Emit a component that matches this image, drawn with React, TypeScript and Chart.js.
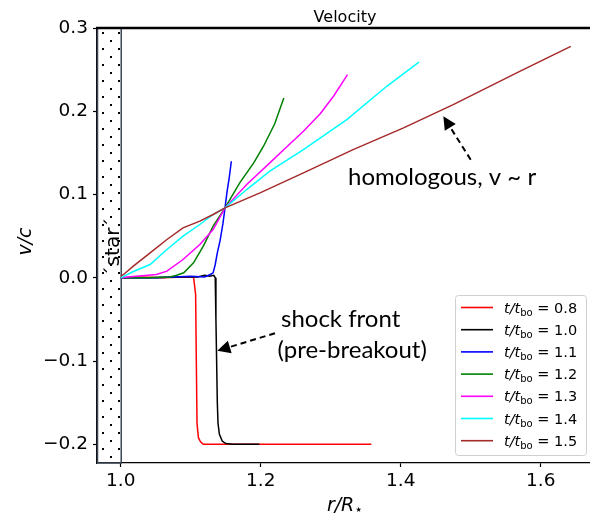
import React, { useEffect, useRef } from "react";
import { Chart, registerables } from "chart.js";
Chart.register(...registerables);

// ---- data ----
const seriesLabels = ["0.8", "1.0", "1.1", "1.2", "1.3", "1.4", "1.5"];
const seriesColors = ["#ff0000", "#000000", "#0000ff", "#008000", "#ff00ff", "#00ffff", "#a52a2a"];

const r08 = [1.0, 1.03, 1.06, 1.09, 1.104, 1.107, 1.108, 1.109, 1.111, 1.114, 1.118, 1.13, 1.2, 1.28, 1.358];
const v08 = [0.0, 0.001, 0.0, 0.001, 0.001, -0.02, -0.1, -0.175, -0.192, -0.197, -0.2, -0.2, -0.2, -0.2, -0.2];

const r10 = [1.0, 1.04, 1.08, 1.11, 1.12, 1.127, 1.133, 1.135, 1.136, 1.137, 1.138, 1.139, 1.141, 1.145, 1.15, 1.16, 1.198];
const v10 = [0.0, 0.0, 0.001, 0.001, 0.003, 0.002, 0.003, 0.0, -0.05, -0.1, -0.15, -0.175, -0.188, -0.196, -0.199, -0.2, -0.2];

const r11 = [1.0, 1.05, 1.1, 1.12, 1.128, 1.132, 1.135, 1.138, 1.142, 1.146, 1.149, 1.152, 1.155, 1.158];
const v11 = [0.0, 0.0, 0.002, 0.001, 0.004, 0.006, 0.016, 0.03, 0.045, 0.065, 0.084, 0.104, 0.12, 0.14];

const r12 = [1.0, 1.04, 1.07, 1.08, 1.09, 1.104, 1.118, 1.132, 1.149, 1.17, 1.19, 1.204, 1.22, 1.233];
const v12 = [0.0, 0.0, 0.001, 0.003, 0.006, 0.018, 0.038, 0.062, 0.084, 0.114, 0.138, 0.158, 0.185, 0.216];

const r13 = [1.0, 1.018, 1.051, 1.066, 1.089, 1.113, 1.132, 1.149, 1.18, 1.213, 1.237, 1.261, 1.285, 1.304, 1.324];
const v13 = [0.0, 0.0015, 0.004, 0.008, 0.022, 0.04, 0.058, 0.084, 0.112, 0.138, 0.157, 0.176, 0.197, 0.218, 0.244];

const r14 = [1.0, 1.018, 1.042, 1.066, 1.089, 1.113, 1.132, 1.149, 1.18, 1.213, 1.261, 1.323, 1.38, 1.426];
const v14 = [0.0, 0.0076, 0.016, 0.034, 0.05, 0.064, 0.076, 0.084, 0.106, 0.128, 0.154, 0.19, 0.23, 0.259];

const r15 = [1.0, 1.004, 1.018, 1.042, 1.066, 1.089, 1.113, 1.132, 1.149, 1.199, 1.261, 1.332, 1.404, 1.475, 1.57, 1.643];
const v15 = [0.002, 0.004, 0.014, 0.03, 0.046, 0.06, 0.068, 0.076, 0.084, 0.102, 0.126, 0.154, 0.18, 0.208, 0.248, 0.278];

const radii = [r08, r10, r11, r12, r13, r14, r15];
const vels = [v08, v10, v11, v12, v13, v14, v15];

const xTicks = [1.0, 1.2, 1.4, 1.6];
const yTicks = [-0.2, -0.1, 0.0, 0.1, 0.2, 0.3];
const xMin = 0.9661;
const xMax = 1.6747;
const yMin = -0.2224;
const yMax = 0.3;
const starEdge = 1.0;

const titleText = "Velocity";
const starText = "\u00B4star\u00B4";
const homologousText = "homologous, v ~ r";
const shockText = ["shock front", "(pre-breakout)"];

const FONT = "'DejaVu Sans'";
const ANN_FONT = "Lato";

type Run = { text: string; font: string; dy?: number };
function drawRuns(ctx: CanvasRenderingContext2D, runs: Run[], x: number, y: number, align: "left" | "center" = "left") {
  let total = 0;
  for (const r of runs) {
    ctx.font = r.font;
    total += ctx.measureText(r.text).width;
  }
  let cx = align === "center" ? x - total / 2 : x;
  ctx.textAlign = "left";
  ctx.textBaseline = "alphabetic";
  for (const r of runs) {
    ctx.font = r.font;
    ctx.fillText(r.text, cx, y + (r.dy || 0));
    cx += ctx.measureText(r.text).width;
  }
}

function dashedArrow(ctx: CanvasRenderingContext2D, x0: number, y0: number, x1: number, y1: number) {
  const dx = x1 - x0, dy = y1 - y0;
  const len = Math.hypot(dx, dy);
  const ux = dx / len, uy = dy / len;
  const head = 13, half = 6.5;
  const bx = x1 - ux * head, by = y1 - uy * head;
  ctx.save();
  ctx.strokeStyle = "#000";
  ctx.fillStyle = "#000";
  ctx.lineWidth = 2;
  ctx.setLineDash([6, 4]);
  ctx.beginPath();
  ctx.moveTo(x0, y0);
  ctx.lineTo(bx, by);
  ctx.stroke();
  ctx.setLineDash([]);
  ctx.beginPath();
  ctx.moveTo(x1, y1);
  ctx.lineTo(bx - uy * half, by + ux * half);
  ctx.lineTo(bx + uy * half, by - ux * half);
  ctx.closePath();
  ctx.fill();
  ctx.restore();
}

export default function App() {
  const ref = useRef<HTMLCanvasElement>(null);
  useEffect(() => {
    const canvas = ref.current!;
    const ctx0 = canvas.getContext("2d")!;
    const tile = document.createElement("canvas");
    tile.width = 16;
    tile.height = 16;
    const tctx = tile.getContext("2d")!;
    tctx.fillStyle = "#000";
    tctx.fillRect(6, 0, 2, 2);
    tctx.fillRect(14, 8, 2, 2);
    const pattern = ctx0.createPattern(tile, "repeat");

    const starPlugin = {
      id: "star",
      beforeDatasetsDraw(chart: any) {
        const { ctx, chartArea, scales } = chart;
        const x0 = chartArea.left;
        const x1 = scales.x.getPixelForValue(starEdge);
        ctx.save();
        ctx.fillStyle = pattern as any;
        ctx.fillRect(x0, chartArea.top, x1 - x0, chartArea.bottom - chartArea.top);
        ctx.strokeStyle = "#3b4656";
        ctx.lineWidth = 1.5;
        ctx.strokeRect(x0 + 0.5, chartArea.top, x1 - x0, chartArea.bottom - chartArea.top);
        // rotated label
        ctx.translate(x1 - 2, scales.y.getPixelForValue(0.037));
        ctx.rotate(-Math.PI / 2);
        ctx.fillStyle = "#000";
        ctx.font = `20px ${FONT}`;
        ctx.textAlign = "center";
        ctx.textBaseline = "alphabetic";
        ctx.fillText(starText, 0, 0);
        ctx.restore();
      },
      afterDraw(chart: any) {
        const { ctx, chartArea, scales } = chart;
        const X = (v: number) => scales.x.getPixelForValue(v);
        const Y = (v: number) => scales.y.getPixelForValue(v);
        ctx.save();
        // top spine
        ctx.strokeStyle = "#000";
        ctx.lineWidth = 2.6;
        ctx.beginPath();
        ctx.moveTo(chartArea.left - 1, chartArea.top);
        ctx.lineTo(chartArea.right, chartArea.top);
        ctx.stroke();
        ctx.fillStyle = "#000";
        // title
        ctx.font = `16px ${FONT}`;
        ctx.textAlign = "center";
        ctx.textBaseline = "alphabetic";
        ctx.fillText(titleText, (chartArea.left + chartArea.right) / 2, 22);
        // x label
        drawRuns(ctx, [
          { text: "r/R", font: `italic 19px ${FONT}` },
          { text: "\u22C6", font: `14px ${FONT}`, dy: 3 },
        ], (chartArea.left + chartArea.right) / 2, 511, "center");
        // y label
        ctx.save();
        ctx.translate(31, (chartArea.top + chartArea.bottom) / 2 - 4);
        ctx.rotate(-Math.PI / 2);
        drawRuns(ctx, [{ text: "v/c", font: `italic 19px ${FONT}` }], 0, 0, "center");
        ctx.restore();

        // annotations
        ctx.fillStyle = "#000";
        ctx.font = `24px ${ANN_FONT}`;
        ctx.textAlign = "left";
        ctx.fillText(homologousText, X(1.3247), Y(0.1118));
        dashedArrow(ctx, X(1.5), Y(0.1418), X(1.4609), Y(0.1939));
        ctx.fillText(shockText[0], X(1.229), Y(-0.0585));
        ctx.fillText(shockText[1], X(1.224), Y(-0.0962));
        dashedArrow(ctx, X(1.2204), Y(-0.0665), X(1.138), Y(-0.0877));

        // legend
        const lx = 455, ly = 295, lw = 131, lh = 160;
        ctx.fillStyle = "rgba(255,255,255,0.85)";
        ctx.strokeStyle = "#d0d0d0";
        ctx.lineWidth = 1;
        ctx.beginPath();
        (ctx as any).roundRect(lx + 0.5, ly + 0.5, lw, lh, 3);
        ctx.fill();
        ctx.stroke();
        seriesLabels.forEach((lab, i) => {
          const yy = 307.5 + i * 22.2;
          ctx.strokeStyle = seriesColors[i];
          ctx.lineWidth = 1.6;
          ctx.beginPath();
          ctx.moveTo(461, yy);
          ctx.lineTo(493, yy);
          ctx.stroke();
          ctx.fillStyle = "#000";
          drawRuns(ctx, [
            { text: "t/t", font: `italic 14.5px ${FONT}` },
            { text: "bo", font: `10px ${FONT}`, dy: 3 },
            { text: " = " + lab, font: `14.5px ${FONT}` },
          ], 504, yy + 5);
        });
        ctx.restore();
      },
    };

    const datasets = radii.map((rs, i) => ({
      label: seriesLabels[i],
      data: rs.map((r, j) => ({ x: r, y: vels[i][j] })),
      borderColor: seriesColors[i],
      backgroundColor: seriesColors[i],
      borderWidth: 1.5,
      pointRadius: 0,
      showLine: true,
      tension: 0,
      order: 6 - i,
    }));

    const tickFont = { family: "DejaVu Sans", size: 18.5 };
    const chart = new Chart(canvas, {
      type: "scatter",
      data: { datasets },
      options: {
        animation: false,
        responsive: false,
        maintainAspectRatio: false,
        layout: { padding: { left: 0, top: 28, right: 7, bottom: 0 } },
        plugins: { legend: { display: false }, tooltip: { enabled: false }, title: { display: false } },
        scales: {
          x: {
            type: "linear",
            min: xMin,
            max: xMax,
            afterBuildTicks: (s: any) => { s.ticks = xTicks.map((v) => ({ value: v })); },
            afterFit: (s: any) => { s.height = 54; },
            ticks: { font: tickFont, color: "#000", padding: 3, maxRotation: 0, callback: (v: any) => Number(v).toFixed(1) },
            grid: { display: true, drawOnChartArea: false, drawTicks: true, tickLength: 4, tickColor: "#000", tickWidth: 1.2 },
            border: { display: true, color: "#000", width: 1.3 },
          },
          y: {
            type: "linear",
            min: yMin,
            max: yMax,
            afterBuildTicks: (s: any) => { s.ticks = yTicks.map((v) => ({ value: v })); },
            afterFit: (s: any) => { s.width = 97; },
            ticks: {
              font: tickFont,
              color: "#000",
              padding: 5,
              callback: (v: any) => {
                const n = Number(v);
                return n < -1e-9 ? "\u2212" + (-n).toFixed(1) : Math.abs(n).toFixed(1);
              },
            },
            grid: { display: true, drawOnChartArea: false, drawTicks: true, tickLength: 4, tickColor: "#000", tickWidth: 1.2 },
            border: { display: true, color: "#000", width: 1.3 },
          },
        },
      },
      plugins: [starPlugin],
    } as any);
    return () => chart.destroy();
  }, []);
  return (
    <div style={{ position: "fixed", left: 0, top: 0, width: 590, height: 517, overflow: "hidden", background: "#fff" }}>
      <canvas ref={ref} width={600} height={517} style={{ display: "block", width: 600, height: 517 }} />
    </div>
  );
}
